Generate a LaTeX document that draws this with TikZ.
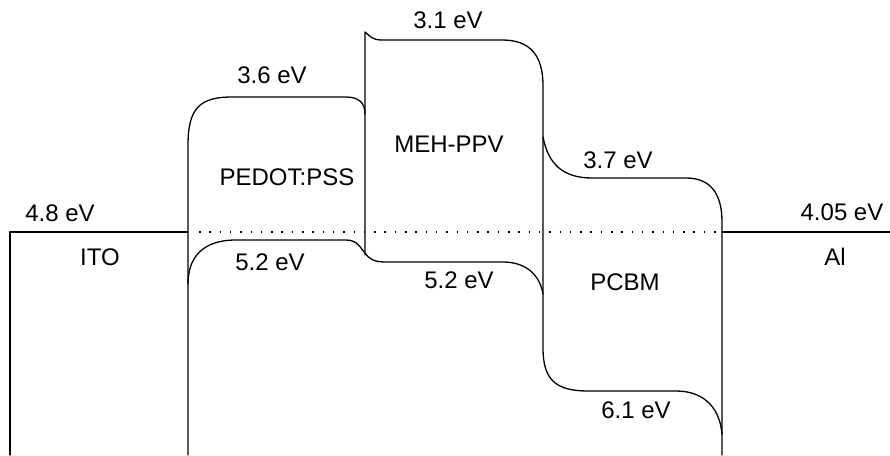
\documentclass[tikz,border=0pt]{standalone}
\usepackage{fontspec}
\setmainfont{Liberation Sans}
\begin{document}
\begin{tikzpicture}[x=1pt,y=-1pt,
  band/.style={line width=1.3pt,line join=round,line cap=round},
  lbl/.style={inner sep=0pt,font=\fontsize{24}{28}\selectfont},
  fermi/.style={line width=1.5pt,dash pattern=on 1.5pt off 8.8pt}]
\useasboundingbox (0,0) rectangle (890,455);
% ITO
\draw[band] (10,455) -- (10,232) -- (188,232);
% PEDOT:PSS left side and LUMO
\draw[band] (188,455) -- (188,145) .. controls (188,108) and (200,97) .. (232,97)
  -- (346,97) .. controls (359,97) and (365,103) .. (365,114);
% PEDOT HOMO -> MEH-PPV HOMO
\draw[band] (188,284) .. controls (188,258) and (202,240) .. (236,240)
  -- (346,240) .. controls (358,240) and (361,249) .. (365,253)
  .. controls (369,259) and (374,262) .. (386,262)
  -- (503,262) .. controls (527,262) and (540,276) .. (543,294);
% MEH-PPV left side and LUMO, right side, PCBM HOMO
\draw[band] (365,255) -- (365,32) .. controls (370,36) and (372,40) .. (382,40)
  -- (502,40) .. controls (530,40) and (543,55) .. (543,86)
  -- (543,348) .. controls (543,380) and (556,391) .. (588,391)
  -- (676,391) .. controls (706,391) and (720,410) .. (722,434);
% PCBM LUMO and right side
\draw[band] (543,137) .. controls (548,163) and (562,178) .. (592,178)
  -- (686,178) .. controls (710,178) and (722,193) .. (722,222) -- (722,455);
% Al
\draw[band] (722,232) -- (890,232);
% vacuum/fermi dotted line
\draw[fermi] (199,232) -- (716,232);
% labels
\node[lbl] (ito_e) at (60,213) {4.8 eV};
\node[lbl] (ito) at (100,257) {ITO};
\node[lbl] (ped_l) at (272,75) {3.6 eV};
\node[lbl] (ped) at (287,177) {PEDOT:PSS};
\node[lbl] (ped_h) at (270,262) {5.2 eV};
\node[lbl] (meh_l) at (448,20) {3.1 eV};
\node[lbl] (meh) at (449,144) {MEH-PPV};
\node[lbl] (meh_h) at (459,280) {5.2 eV};
\node[lbl] (pc_l) at (618,160) {3.7 eV};
\node[lbl] (pc) at (625,282) {PCBM};
\node[lbl] (pc_h) at (636,410) {6.1 eV};
\node[lbl] (al_e) at (842,212) {4.05 eV};
\node[lbl] (al) at (835,257) {Al};
\end{tikzpicture}
\end{document}
